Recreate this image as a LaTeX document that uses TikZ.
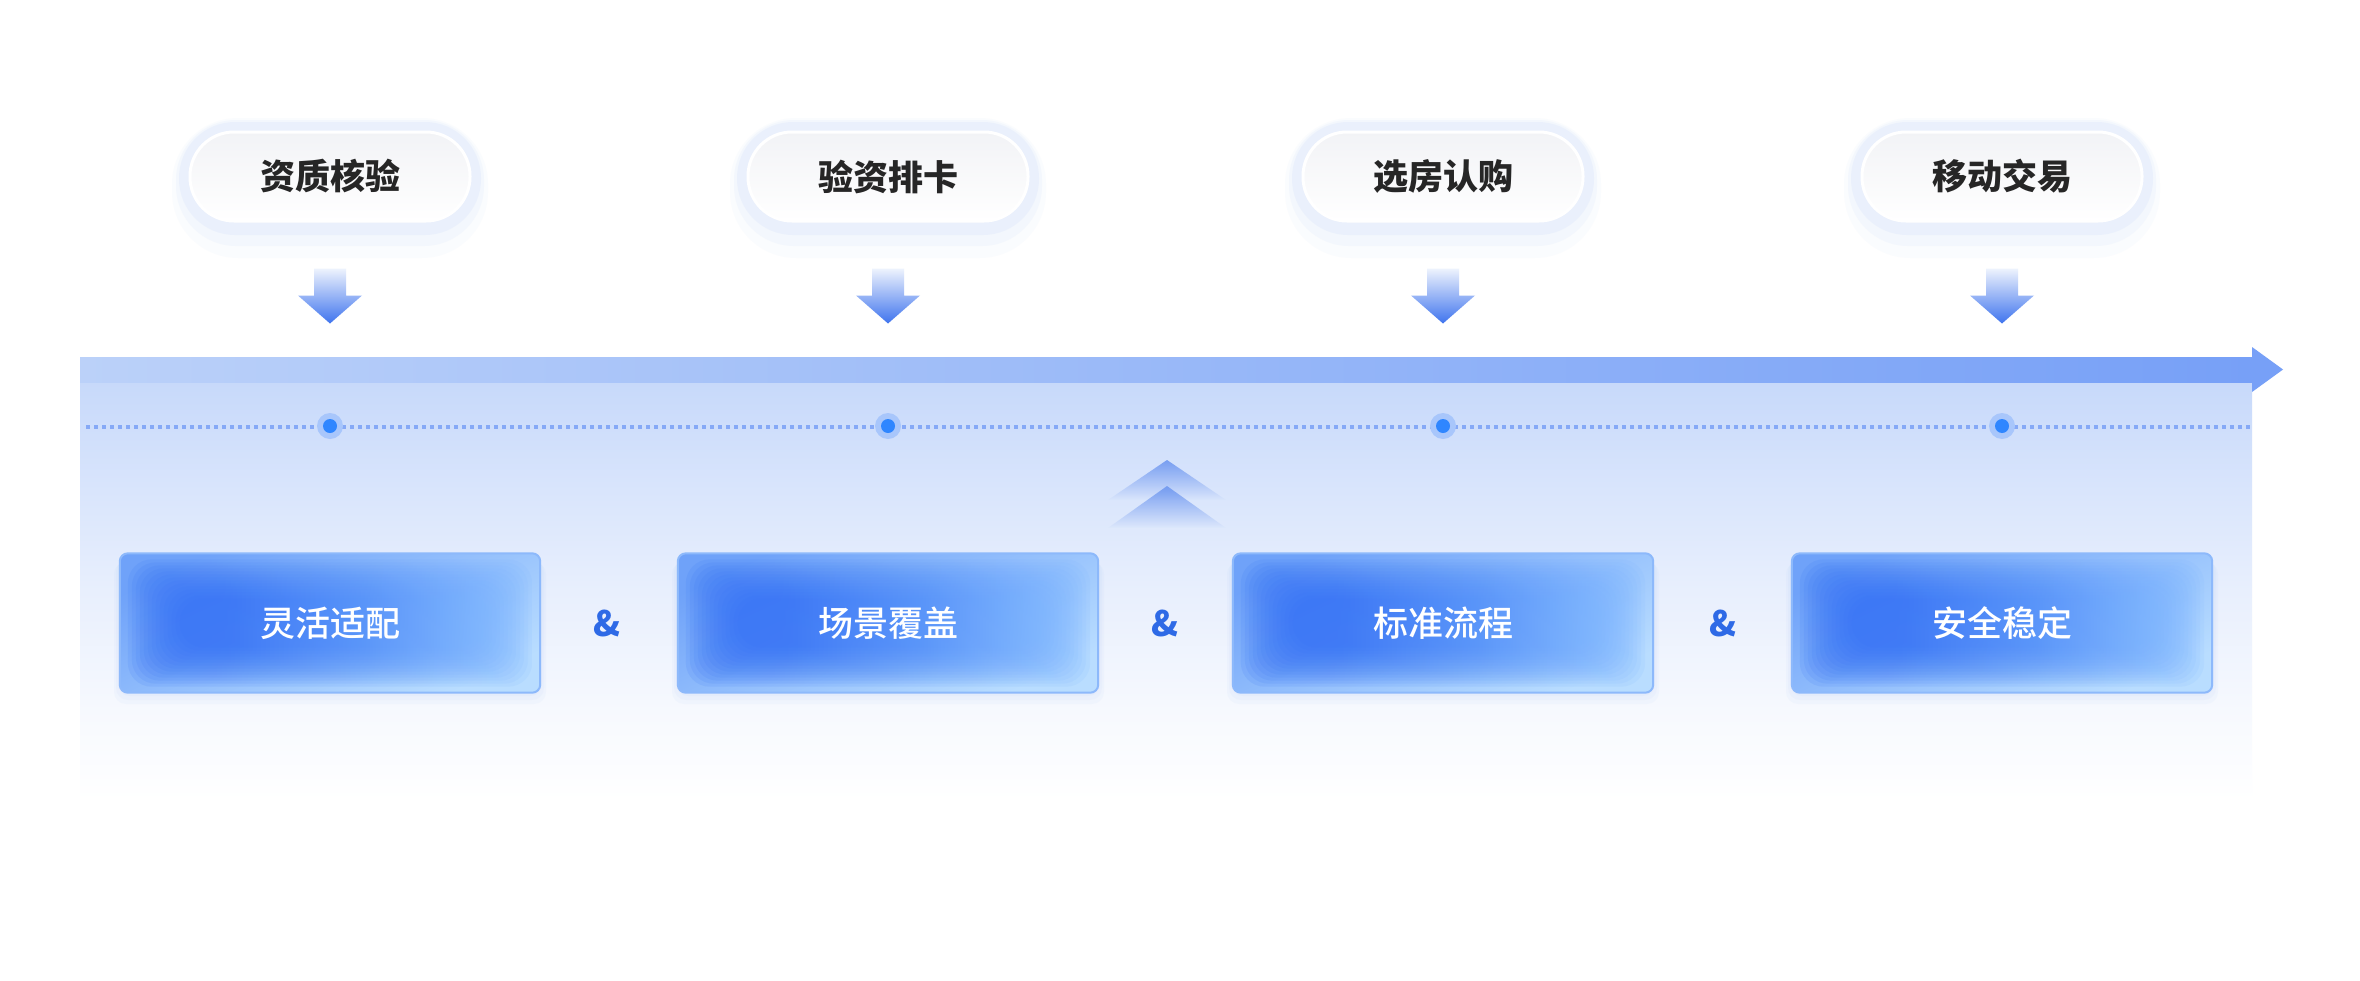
\documentclass[tikz,border=0pt]{standalone}
\usepackage{fontspec}
\setmainfont{Noto Sans CJK SC}
\newfontfamily\cjkmed{Noto Sans CJK SC Medium}
\usetikzlibrary{calc,fadings}

\definecolor{pillText}{HTML}{262626}
\definecolor{pillTop}{HTML}{F2F3F6}
\definecolor{halo}{HTML}{D6E2FB}
\definecolor{arrTop}{HTML}{EEF3FD}
\definecolor{arrBot}{HTML}{3F74EE}
\definecolor{stripL}{HTML}{BBD1F9}
\definecolor{stripR}{HTML}{77A0F7}
\definecolor{panT}{HTML}{C7D9FA}
\definecolor{panA}{HTML}{D9E5FC}
\definecolor{panM}{HTML}{E8EFFD}
\definecolor{panB}{HTML}{F5F8FE}
\definecolor{dotc}{HTML}{86A9F6}
\definecolor{dotIn}{HTML}{2F86FF}
\definecolor{dotHalo}{HTML}{A8C6FB}
\definecolor{chev}{HTML}{6E97F0}
\definecolor{bxA}{HTML}{3572F5}
\definecolor{bxB}{HTML}{5290F9}
\definecolor{bxC}{HTML}{80B8FF}
\definecolor{baseTL}{HTML}{6FA2F9}
\definecolor{baseBR}{HTML}{B9DDFF}
\definecolor{bxLine}{HTML}{8DB9FB}
\definecolor{bxShadow}{HTML}{8FB3F7}
\definecolor{amp}{HTML}{2E6AE6}

\pgfdeclareverticalshading{panelshade}{100bp}{color(0bp)=(white); color(25bp)=(white); color(37bp)=(panB); color(50bp)=(panM); color(62bp)=(panA); color(75bp)=(panT); color(100bp)=(panT)}
\pgfdeclarehorizontalshading{blobshade}{100bp}{color(0bp)=(bxA); color(25bp)=(bxA); color(35bp)=(bxA); color(55bp)=(bxB); color(75bp)=(bxC); color(100bp)=(bxC)}
\tikzfading[name=fadedown, top color=transparent!0, bottom color=transparent!100]

\tikzset{
  pill/.style={rectangle, rounded corners=44pt, minimum width=280pt, minimum height=89pt,
    inner sep=0pt, draw=white, line width=3pt, top color=pillTop, bottom color=white,
    text=pillText, font=\fontsize{35}{40}\selectfont\bfseries},
  boxnode/.style={rectangle, rounded corners=8pt, minimum width=420pt, minimum height=139pt,
    inner sep=0pt, top color=baseTL, bottom color=baseBR, shading angle=25},
  boxtext/.style={text=white, font=\fontsize{35}{40}\cjkmed, inner sep=0pt},
  ampnode/.style={text=amp, font=\fontsize{35}{40}\selectfont\bfseries, inner sep=0pt},
  downarrow/.style={top color=arrTop, bottom color=arrBot},
  dotline/.style={dotc, line width=3.5pt, dash pattern=on 3.5pt off 4.5pt},
  dothalo/.style={circle, fill=dotHalo, minimum size=26pt, inner sep=0pt},
  dotcore/.style={circle, fill=dotIn, minimum size=14pt, inner sep=0pt},
  chevron/.style={fill=chev, path fading=fadedown},
}

\begin{document}
\begin{tikzpicture}[x=1pt, y=-1pt]
\useasboundingbox (0,0) rectangle (2360,980);
\fill[white] (0,0) rectangle (2360,980);

% background panel and timeline strip
\shade[shading=panelshade] (80,382) rectangle (2252,800);
\shade[left color=stripL, right color=stripR] (80,357) rectangle (2253,382);
\fill[stripR] (2252,347) -- (2283,369.5) -- (2252,392) -- cycle;

% dotted line
\coordinate (dl) at (86,427);
\coordinate (dr) at (2251,427);
\draw[dotline] (dl) -- (dr);

% chevrons
\fill[chevron, opacity=0.9] (1108,500) -- (1167,460) -- (1226,500) -- cycle;
\fill[chevron, opacity=0.9] (1108,528) -- (1167,486) -- (1226,528) -- cycle;

% pills, arrows, dots, boxes
\foreach \i/\x/\t/\b in {1/330/资质核验/灵活适配, 2/888/验资排卡/场景覆盖, 3/1443/选房认购/标准流程, 4/2002/移动交易/安全稳定}{
  \fill[halo, opacity=0.10, rounded corners=66pt] ({\x-158},118) rectangle ({\x+158},258);
  \fill[halo, opacity=0.18, rounded corners=60pt] ({\x-154},120) rectangle ({\x+154},246);
  \fill[halo, opacity=0.30, rounded corners=56pt] ({\x-151},122) rectangle ({\x+151},235);
  \node[pill] (p\i) at (\x,176.5) {\t};
  \shade[downarrow] ($(p\i.south)+(-16,46)$) -- ($(p\i.south)+(16,46)$) -- ($(p\i.south)+(16,73)$)
     -- ($(p\i.south)+(32,73)$) -- ($(p\i.south)+(0,101)$) -- ($(p\i.south)+(-32,73)$)
     -- ($(p\i.south)+(-16,73)$) -- cycle;
  \node[dothalo] (h\i) at (\x,426) {};
  \node[dotcore] (c\i) at (h\i) {};
  \foreach \s in {4,8,12}{
    \fill[bxShadow, opacity=0.05, rounded corners=12pt] ({\x-210-\s/2},{556+\s/2}) rectangle ({\x+210+\s/2},{692+\s});
  }
  \node[boxnode] (b\i) at (\x,623) {};
  \begin{scope}
    \clip[rounded corners=8pt] (b\i.south west) rectangle (b\i.north east);
    \foreach \k in {0,...,13}{
      \shade[shading=blobshade, opacity=0.12, rounded corners=24pt]
        ($(b\i.north west)+({8+4*\k},{6+3*\k})$) rectangle ($(b\i.south east)+({-8-4*\k},{-6-3*\k})$);
    }
  \end{scope}
  \draw[bxLine, line width=2pt, rounded corners=8pt] (b\i.south west) rectangle (b\i.north east);
  \node[boxtext] (t\i) at (b\i) {\b};
}

% ampersands
\node[ampnode] (a1) at (607,623) {\&};
\node[ampnode] (a2) at (1165,623) {\&};
\node[ampnode] (a3) at (1723,623) {\&};
\end{tikzpicture}
\end{document}
